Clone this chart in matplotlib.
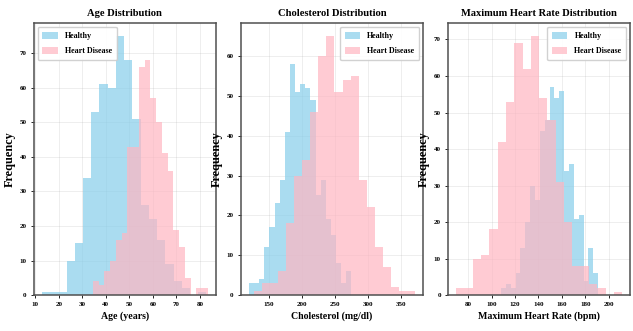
import numpy as np
import matplotlib
matplotlib.use("Agg")
import matplotlib.pyplot as plt

plt.rcParams['font.family'] = ['Liberation Serif', 'DejaVu Serif']
plt.rcParams['font.weight'] = 'bold'

# ---- data: per-bin counts (20 bins) and data ranges ----
age_healthy_range = (12.8, 82.8)
age_healthy = [1, 1, 1, 10, 15, 34, 53, 61, 60, 75, 68, 51, 26, 22, 16, 9, 4, 2, 0, 1]
age_disease_range = (34.5, 83.4)
age_disease = [4, 3, 7, 10, 16, 18, 43, 43, 66, 68, 57, 50, 41, 36, 19, 14, 5, 0, 2, 2]

chol_healthy_range = (119.5, 274.5)
chol_healthy = [3, 3, 4, 12, 17, 23, 29, 41, 58, 51, 53, 52, 49, 25, 29, 19, 15, 8, 3, 6]
chol_disease_range = (127.0, 371.0)
chol_disease = [1, 3, 3, 6, 18, 30, 34, 46, 60, 65, 51, 54, 55, 29, 22, 12, 7, 2, 1, 1]

hr_healthy_range = (108.0, 191.0)
hr_healthy = [2, 3, 2, 6, 13, 20, 30, 26, 45, 48, 57, 54, 56, 34, 36, 21, 22, 4, 13, 6]
hr_disease_range = (69.65, 211.5)
hr_disease = [2, 2, 10, 11, 18, 42, 53, 69, 62, 71, 54, 48, 31, 20, 8, 8, 3, 2, 0, 1]

titles = ['Age Distribution', 'Cholesterol Distribution', 'Maximum Heart Rate Distribution']
xlabels = ['Age (years)', 'Cholesterol (mg/dl)', 'Maximum Heart Rate (bpm)']
series = [
    (age_healthy_range, age_healthy, age_disease_range, age_disease),
    (chol_healthy_range, chol_healthy, chol_disease_range, chol_disease),
    (hr_healthy_range, hr_healthy, hr_disease_range, hr_disease),
]
legend_locs = ['upper left', 'upper right', 'upper right']

fig, axes = plt.subplots(1, 3, figsize=(6.33, 3.31), dpi=100)
fig.subplots_adjust(left=0.053, right=0.996, bottom=0.108, top=0.931, wspace=0.134)

for ax, title, xl, (hr_, hc, dr_, dc), loc in zip(axes, titles, xlabels, series, legend_locs):
    he = np.linspace(hr_[0], hr_[1], len(hc) + 1)
    de = np.linspace(dr_[0], dr_[1], len(dc) + 1)
    ax.hist(he[:-1], bins=he, weights=hc, color='skyblue', alpha=0.7, label='Healthy')
    ax.hist(de[:-1], bins=de, weights=dc, color='lightpink', alpha=0.7, label='Heart Disease')
    ax.set_title(title, fontsize=7.6, fontweight='bold', pad=5)
    ax.set_xlabel(xl, fontsize=7.1, fontweight='bold', labelpad=3)
    ax.set_ylabel('Frequency', fontsize=8.8, fontweight='bold', labelpad=3)
    ax.tick_params(labelsize=5.0, length=2, width=0.6, pad=3)
    ax.grid(True, alpha=0.3, linewidth=0.5)
    ax.set_axisbelow(True)
    for s in ax.spines.values():
        s.set_color('#505050')
        s.set_linewidth(1.1)
    ax.legend(loc=loc, fontsize=5.8, handlelength=1.9, handleheight=0.95,
              borderpad=0.6, labelspacing=0.9, handletextpad=0.9, framealpha=0.9)

fig.savefig('out.png', dpi=100)
